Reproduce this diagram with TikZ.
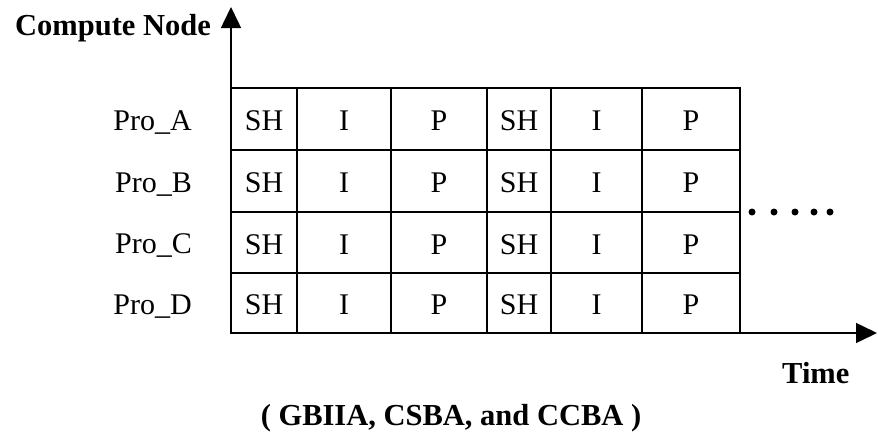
\documentclass[tikz,border=0pt]{standalone}
\usepackage{fontspec}
\setmainfont{Liberation Serif}
\usetikzlibrary{arrows.meta}
\begin{document}
\begin{tikzpicture}[x=1pt,y=-1pt,
  axis/.style={line width=1.5pt, -{Triangle[length=21pt,width=20pt]}},
  cell/.style={draw, line width=1.4pt, inner sep=0pt, text height=23pt, text depth=0pt,
    font=\fontsize{30}{36}\selectfont},
  lbl/.style={font=\fontsize{30}{36}\selectfont, inner sep=0pt},
  ttl/.style={font=\fontsize{30.5}{36}\selectfont\bfseries, inner sep=0pt},
  tick/.style={circle, fill=black, inner sep=0pt, minimum size=7pt}]
\useasboundingbox (0,0) rectangle (878,432);

% axes
\coordinate (origin) at (231,333);
\coordinate (ytip) at (231,7);
\coordinate (xtip) at (877,333);
\draw[axis] (origin) -- (ytip);
\draw[axis] (origin) -- (xtip);

% schedule table: one row per processor
\foreach \r/\ya/\yb/\pn in {1/88/150/A, 2/150/212/B, 3/212/273/C, 4/273/333/D} {
  \node[lbl, anchor=base east] (pro-\r) at (192, {(\ya+\yb)/2+11}) {Pro\_\pn};
  \foreach \c/\xa/\xb/\t in {1/231/297/SH, 2/297/391/I, 3/391/487/P,
                             4/487/551/SH, 5/551/642/I, 6/642/740/P} {
    \node[cell, minimum width={(\xb-\xa)*1pt}, minimum height={(\yb-\ya)*1pt}]
      (c-\r-\c) at ({(\xa+\xb)/2},{(\ya+\yb)/2}) {\t};
  }
}

% continuation dots
\foreach \i/\x in {1/752, 2/774, 3/795, 4/814, 5/830}
  \node[tick] (more-\i) at (\x,212) {};

% titles
\node[ttl, anchor=base west] (ylabel) at (15,35) {Compute Node};
\node[ttl, anchor=base west] (xlabel) at (782,383) {Time};
\node[ttl, anchor=base] (caption) at (451,425) {( GBIIA, CSBA, and CCBA )};
\end{tikzpicture}
\end{document}
